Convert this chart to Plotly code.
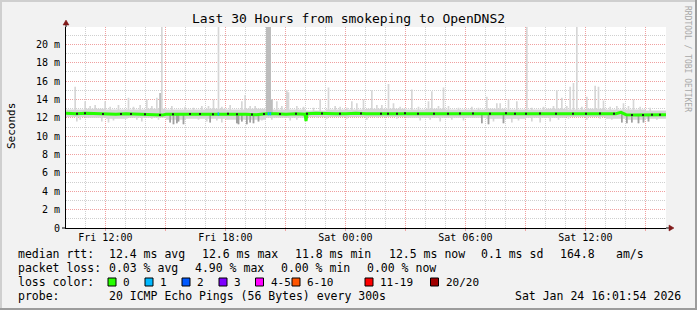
import numpy as np
import pandas as pd
import plotly.graph_objects as go

# ---------------- data ----------------
start = pd.Timestamp("2026-01-23 10:01:54")
end = pd.Timestamp("2026-01-24 16:01:54")
slot_minutes = 5

# smoke envelope close to the median, one value per hour (ms)
smoke_hi_hourly = [12.9, 13.0, 12.9, 12.9, 13.0, 12.9, 12.9, 13.0, 12.9, 13.0,
                   12.9, 12.9, 12.8, 12.9, 12.9, 13.0, 13.0, 12.9, 13.0, 12.9,
                   12.9, 13.0, 12.9, 12.9, 13.0, 12.9, 13.0, 12.9, 12.9, 12.8]
smoke_lo_hourly = [12.1, 12.0, 11.9, 12.0, 12.0, 11.8, 11.9, 11.9, 11.8, 11.8,
                   12.0, 12.0, 12.1, 12.1, 12.1, 12.1, 12.1, 12.0, 12.0, 12.0,
                   12.0, 11.9, 11.9, 12.0, 12.0, 12.1, 12.1, 11.9, 11.8, 11.9]

# upward smoke spikes (hours after window start, top in ms, shade 0 light / 1 mid)
spike_hours = [0.43, 0.95, 1.2, 1.45, 1.92, 2.2, 2.6, 3.15, 3.4, 3.7, 4.0, 4.3, 4.55, 4.7, 4.8,
               4.95, 5.3, 5.95, 6.4, 6.8, 7.1, 7.4, 7.6, 7.8, 8.2, 8.75, 8.95, 9.2, 9.45,
               10.0, 10.1, 10.2, 10.3, 10.5, 10.75, 11.05, 11.15, 11.5, 11.9, 12.4, 12.7,
               13.15, 13.45, 13.7, 14.0, 14.25, 14.5, 14.85, 15.25, 15.55, 15.75, 16.15,
               16.35, 16.7, 17.25, 17.6, 18.1, 18.3, 18.6, 18.85, 19.15, 19.6, 20.25, 20.6,
               21.05, 21.5, 21.7, 22.15, 22.55, 23.0, 23.3, 23.9, 24.4, 24.55, 24.8, 25.05,
               25.2, 25.35, 25.5, 25.8, 26.05, 26.45, 26.6, 26.85, 27.2, 27.5, 27.85, 28.1,
               28.35, 28.7, 29.2]
spike_tops = [15.4, 13.8, 13.3, 13.4, 13.8, 13.2, 13.4, 14.2, 13.2, 13.4, 14.0, 13.3, 14.2, 14.7, 22.0,
              13.0, 13.3, 13.2, 13.1, 13.3, 13.3, 14.0, 22.0, 13.2, 13.4, 13.8, 14.5, 13.3, 13.3,
              22.0, 22.0, 22.0, 14.0, 13.8, 13.3, 15.0, 14.8, 13.3, 13.2, 13.1, 14.0,
              15.3, 13.3, 13.2, 13.1, 13.8, 13.6, 14.0, 15.0, 13.4, 13.4, 15.7,
              13.6, 13.2, 15.1, 13.2, 13.8, 14.9, 13.3, 15.3, 13.3, 13.1, 13.2, 13.1,
              14.3, 13.6, 13.6, 14.0, 13.8, 22.0, 13.1, 13.2, 13.3, 15.0, 14.2, 13.3,
              15.4, 15.8, 22.0, 13.2, 14.3, 15.5, 15.4, 13.9, 13.2, 13.3, 13.6, 13.3,
              14.0, 13.2, 13.1]
spike_shades = [0, 0, 0, 0, 0, 0, 0, 0, 0, 0, 0, 0, 0, 1, 0,
                0, 0, 0, 0, 0, 0, 0, 0, 0, 0, 0, 0, 0, 0,
                1, 1, 1, 1, 0, 0, 0, 0, 0, 0, 0, 0,
                0, 0, 0, 0, 0, 0, 0, 0, 0, 0, 0,
                0, 0, 0, 0, 0, 0, 0, 0, 0, 0, 0, 0,
                0, 0, 0, 0, 0, 0, 0, 0, 0, 0, 0, 0,
                0, 0, 0, 0, 0, 0, 0, 0, 0, 0, 0, 0,
                0, 0, 0]

# downward smoke excursions (hours, bottom in ms, shade 0 light / 1 dark)
dip_hours = [0.5, 0.7, 1.0, 1.8, 2.1, 2.4, 3.0, 3.5, 3.8, 4.3, 4.6, 5.2, 5.35, 5.5, 5.65, 5.85,
             6.3, 6.6, 7.0, 7.2, 7.5, 7.8, 8.1, 8.5, 8.65, 8.8, 9.0, 9.2, 9.4, 9.6, 9.8, 10.3,
             11.2, 11.5, 12.5, 13.0, 14.0, 15.0, 15.5, 16.5, 17.7, 18.2, 18.7, 19.3, 19.9,
             20.8, 21.1, 21.4, 21.9, 22.3, 22.6, 23.3, 23.7, 24.2, 24.6, 25.1, 26.0, 26.7,
             27.3, 27.8, 28.0, 28.3, 28.6, 28.9, 29.1, 29.5]
dip_bottoms = [11.6, 11.8, 12.0, 11.6, 11.5, 11.7, 11.9, 11.8, 11.6, 11.9, 11.8, 11.5, 11.3, 11.4, 11.6, 11.3,
               11.9, 11.8, 11.6, 11.5, 11.7, 11.5, 11.8, 11.4, 11.3, 11.6, 11.3, 11.5, 11.4, 11.6, 11.7, 11.8,
               11.7, 11.8, 12.0, 11.9, 11.9, 11.8, 12.0, 11.9, 11.7, 11.8, 11.6, 11.8, 11.7,
               11.4, 11.3, 11.6, 11.4, 11.5, 11.7, 11.6, 11.5, 11.6, 11.8, 11.9, 11.8, 11.9,
               11.8, 11.5, 11.4, 11.5, 11.4, 11.5, 11.6, 11.8]
dip_shades = [0, 0, 0, 0, 0, 0, 0, 0, 0, 0, 0, 1, 1, 1, 1, 1,
              0, 0, 0, 1, 0, 0, 0, 1, 1, 1, 1, 1, 1, 1, 0, 0,
              0, 0, 0, 0, 0, 0, 0, 0, 0, 0, 0, 0, 0,
              1, 1, 0, 1, 0, 0, 0, 0, 0, 0, 0, 0, 0,
              0, 1, 1, 1, 1, 1, 1, 0]

# median rtt (hours, ms)
median_hours = [0, 0.5, 1.0, 1.5, 2.0, 2.5, 3.0, 3.5, 4.0, 4.5, 4.8, 5.0, 5.5, 6.0, 6.5, 7.0,
                7.5, 8.0, 8.5, 9.0, 9.5, 10.0, 10.5, 11.0, 11.5, 11.95, 12.0, 12.05, 12.5,
                13.0, 13.5, 14.0, 14.5, 15.0, 15.5, 16.0, 16.5, 17.0, 17.5, 18.0, 18.5,
                19.0, 19.5, 20.0, 20.5, 21.0, 21.5, 22.0, 22.5, 23.0, 23.5, 24.0, 24.5,
                25.0, 25.5, 26.0, 26.5, 27.0, 27.5, 27.75, 28.0, 28.5, 29.0, 29.5, 30.0]
median_ms = [12.5, 12.45, 12.5, 12.45, 12.4, 12.4, 12.45, 12.4, 12.4, 12.35, 12.3, 12.4, 12.4, 12.4, 12.45, 12.4,
             12.4, 12.45, 12.4, 12.4, 12.35, 12.45, 12.45, 12.4, 12.45, 12.4, 11.65, 12.45, 12.5,
             12.45, 12.45, 12.45, 12.5, 12.45, 12.45, 12.45, 12.45, 12.5, 12.45, 12.45, 12.45,
             12.45, 12.45, 12.5, 12.45, 12.45, 12.45, 12.5, 12.45, 12.45, 12.45, 12.5, 12.45,
             12.45, 12.45, 12.45, 12.5, 12.45, 12.45, 12.6, 12.35, 12.3, 12.3, 12.35, 12.35]
loss1_hours = [7.62, 10.12, 10.22]          # intervals with 1/20 packets lost
dark_dot_hours = [0.55, 0.95, 1.85, 2.75, 3.25, 3.95, 4.7, 5.35, 6.2, 6.7, 7.35, 8.1, 8.55, 9.3,
                  9.9, 10.7, 11.5, 12.05, 12.8, 13.7, 14.75, 15.75, 16.1, 16.55, 16.95, 17.6,
                  18.4, 19.1, 19.7, 20.35, 21.2, 22.0, 22.45, 23.0, 23.7, 24.5, 25.35, 26.0,
                  26.7, 27.4, 28.3, 28.85, 29.3, 29.7]

y_tick_vals = [0, 2, 4, 6, 8, 10, 12, 14, 16, 18, 20]
y_tick_labels = ["0", "2 m", "4 m", "6 m", "8 m", "10 m", "12 m", "14 m", "16 m", "18 m", "20 m"]
x_tick_times = ["2026-01-23 12:00", "2026-01-23 15:00", "2026-01-23 18:00", "2026-01-23 21:00",
                "2026-01-24 00:00", "2026-01-24 03:00", "2026-01-24 06:00", "2026-01-24 09:00",
                "2026-01-24 12:00", "2026-01-24 15:00"]
x_tick_labels = ["Fri 12:00", "", "Fri 18:00", "", "Sat 00:00", "", "Sat 06:00", "", "Sat 12:00", ""]

rtt_values = [12.4, 12.6, 11.8, 12.5, 0.1]
rtt_names = ["avg", "max", "min", "now", "sd"]
am_per_s = 164.8
loss_pct_values = [0.03, 4.90, 0.00, 0.00]
loss_pct_names = ["avg", "max", "min", "now"]
loss_labels = ["0", "1", "2", "3", "4-5", "6-10", "11-19", "20/20"]
loss_colors = ["#26ff00", "#00b8ff", "#0059ff", "#7e00ff", "#ff00ff", "#ff5500", "#ff0000", "#a00000"]
probe_text = "20 ICMP Echo Pings (56 Bytes) every 300s"
stamp_text = "Sat Jan 24 16:01:54 2026"
title_text = "Last 30 Hours from smokeping to OpenDNS2"

# ---------------- build ----------------
MONO = "DejaVu Sans Mono"
W, H = 697, 310
L, R, T, B = 66, 31, 27, 82
PW, PH = W - L - R, H - T - B


def xp(px):
    return (px - L) / PW


def yp(py):
    return (H - B - py) / PH


n = int(30 * 60 / slot_minutes)
idx = np.arange(n)
hi = np.array(smoke_hi_hourly, float)[idx * slot_minutes // 60]
lo = np.array(smoke_lo_hourly, float)[idx * slot_minutes // 60]
mid_hi = np.full(n, 12.4)
dark_lo = np.full(n, 12.4)
for h, t, s in zip(spike_hours, spike_tops, spike_shades):
    k = min(int(h * 60 / slot_minutes), n - 1)
    hi[k] = max(hi[k], t)
    if s:
        mid_hi[k] = max(mid_hi[k], t)
for h, b, s in zip(dip_hours, dip_bottoms, dip_shades):
    k = min(int(h * 60 / slot_minutes), n - 1)
    lo[k] = min(lo[k], b)
    if s:
        dark_lo[k] = min(dark_lo[k], b)

edges = start + pd.to_timedelta(np.arange(n + 1) * slot_minutes, unit="min")


def ext(a):
    return np.append(a, a[-1])


def hours_to_time(h):
    return start + pd.to_timedelta(np.asarray(h, float), unit="h")


fig = go.Figure()


def band(low, high, color):
    fig.add_trace(go.Scatter(x=edges, y=ext(low), mode="lines", line=dict(width=0, shape="hv"),
                             hoverinfo="skip", showlegend=False))
    fig.add_trace(go.Scatter(x=edges, y=ext(high), mode="lines", line=dict(width=0, shape="hv"),
                             fill="tonexty", fillcolor=color, hoverinfo="skip", showlegend=False))


band(lo, hi, "#d6d6d6")
band(np.full(n, 12.4), mid_hi, "#bdbdbd")
band(dark_lo, np.full(n, 12.4), "#a0a0a0")

# median line
fig.add_trace(go.Scatter(x=hours_to_time(median_hours), y=median_ms, mode="lines",
                         line=dict(color=loss_colors[0], width=3), showlegend=False))
for h in loss1_hours:
    hh = [h - 0.04, h + 0.04]
    fig.add_trace(go.Scatter(x=hours_to_time(hh), y=np.interp(hh, median_hours, median_ms),
                             mode="lines", line=dict(color=loss_colors[1], width=3), showlegend=False))
fig.add_trace(go.Scatter(x=hours_to_time(dark_dot_hours),
                         y=np.interp(dark_dot_hours, median_hours, median_ms),
                         mode="markers", marker=dict(symbol="square", size=2, color="#202020", line=dict(width=0)),
                         showlegend=False))

grid_dash = "1px,1px"
fig.update_xaxes(
    type="date", range=[start, end],
    tickmode="array", tickvals=x_tick_times, ticktext=x_tick_labels,
    showgrid=True, gridcolor="#f0a0a0", gridwidth=1, griddash=grid_dash,
    minor=dict(dtick=3600000, tick0="2026-01-23 00:00", showgrid=True, gridcolor="#cfcfcf",
               griddash=grid_dash, gridwidth=1),
    ticks="outside", ticklen=2, tickcolor="#f0a0a0", ticklabelstandoff=-2,
    showline=True, linecolor="#000000", linewidth=1, zeroline=False,
    tickfont=dict(family=MONO, size=10, color="#000"), fixedrange=True,
)
fig.update_yaxes(
    range=[0, 21.9], tickmode="array", tickvals=y_tick_vals, ticktext=y_tick_labels,
    showgrid=True, gridcolor="#f0a0a0", gridwidth=1, griddash=grid_dash,
    minor=dict(dtick=1, tick0=0, showgrid=True, gridcolor="#cfcfcf", griddash=grid_dash, gridwidth=1),
    ticks="outside", ticklen=3, tickcolor="rgba(0,0,0,0)",
    showline=True, linecolor="#000000", linewidth=1, zeroline=False,
    tickfont=dict(family=MONO, size=10, color="#000"), fixedrange=True,
)

shapes = []
# frame of the image
shapes.append(dict(type="rect", xref="paper", yref="paper", x0=xp(0), x1=xp(W), y0=yp(0), y1=yp(2),
                   fillcolor="#cfcfcf", line=dict(width=0), layer="above"))
shapes.append(dict(type="rect", xref="paper", yref="paper", x0=xp(0), x1=xp(2), y0=yp(0), y1=yp(H),
                   fillcolor="#cfcfcf", line=dict(width=0), layer="above"))
shapes.append(dict(type="rect", xref="paper", yref="paper", x0=xp(0), x1=xp(W), y0=yp(H - 2), y1=yp(H),
                   fillcolor="#9c9c9c", line=dict(width=0), layer="above"))
shapes.append(dict(type="rect", xref="paper", yref="paper", x0=xp(W - 2), x1=xp(W), y0=yp(0), y1=yp(H),
                   fillcolor="#9c9c9c", line=dict(width=0), layer="above"))
# axis extensions and arrows
arrow_col = "#801a1a"
shapes.append(dict(type="path", xref="paper", yref="paper", xsizemode="pixel", ysizemode="pixel",
                   xanchor=0, yanchor=1, path="M 0,0 L 0,3", line=dict(color="#000", width=1)))
shapes.append(dict(type="path", xref="paper", yref="paper", xsizemode="pixel", ysizemode="pixel",
                   xanchor=0, yanchor=1, path="M -3,2 L 3,2 L 0,7 Z", fillcolor=arrow_col,
                   line=dict(color=arrow_col, width=0.5)))
shapes.append(dict(type="path", xref="paper", yref="paper", xsizemode="pixel", ysizemode="pixel",
                   xanchor=1, yanchor=0, path="M 0,0 L 4,0", line=dict(color="#000", width=1)))
shapes.append(dict(type="path", xref="paper", yref="paper", xsizemode="pixel", ysizemode="pixel",
                   xanchor=1, yanchor=0, path="M 3,-3 L 3,3 L 8,0 Z", fillcolor=arrow_col,
                   line=dict(color=arrow_col, width=0.5)))
shapes.append(dict(type="path", xref="paper", yref="paper", xsizemode="pixel", ysizemode="pixel",
                   xanchor=0, yanchor=0, path="M -4,0 L 0,0", line=dict(color="#000", width=1)))

annotations = []


def ann(text, px, py, size=11.5, anchor="left", color="#000", angle=0):
    annotations.append(dict(text=text, x=xp(px), y=yp(py), xref="paper", yref="paper",
                            xanchor=anchor, yanchor="middle", showarrow=False, textangle=angle,
                            font=dict(family=MONO, size=size, color=color)))


ann(title_text, 348, 19, size=13, anchor="center")
ann("Seconds", 11, 126, size=11, anchor="center", angle=-90)
ann("RRDTOOL / TOBI OETIKER", 688, 59, size=8, anchor="center", color="#a8a8a8", angle=90)

row_y = [254, 268, 282, 296]
ann("median rtt:", 16, row_y[0])
for v, nm, px in zip(rtt_values, rtt_names, [107, 200, 293, 387, 479]):
    ann(f"{v:.1f} ms {nm}", px, row_y[0])
ann(f"{am_per_s:.1f}", 558, row_y[0])
ann("am/s", 614, row_y[0])

ann("packet loss:", 16, row_y[1])
for v, nm, px in zip(loss_pct_values, loss_pct_names, [107, 193, 279, 365]):
    ann(f"{v:.2f} % {nm}", px, row_y[1])

ann("loss color:", 16, row_y[2])
box_left = [108, 145, 182, 219, 255.5, 292, 365, 430.5]
for lab, col, bx in zip(loss_labels, loss_colors, box_left):
    shapes.append(dict(type="rect", xref="paper", yref="paper", x0=xp(bx), x1=xp(bx + 8),
                       y0=yp(row_y[2] + 4), y1=yp(row_y[2] - 4), fillcolor=col,
                       line=dict(color="#000", width=1), layer="above"))
    ann(lab, bx + 13, row_y[2], size=11)

ann("probe:", 16, row_y[3])
ann(probe_text, 107, row_y[3])
ann(stamp_text, 513, row_y[3])

fig.update_layout(
    width=W, height=H, margin=dict(l=L, r=R, t=T, b=B, pad=0),
    paper_bgcolor="#f2f2f2", plot_bgcolor="#ffffff",
    showlegend=False, shapes=shapes, annotations=annotations,
    font=dict(family=MONO, size=10, color="#000"),
)

fig.write_html("out.html")
